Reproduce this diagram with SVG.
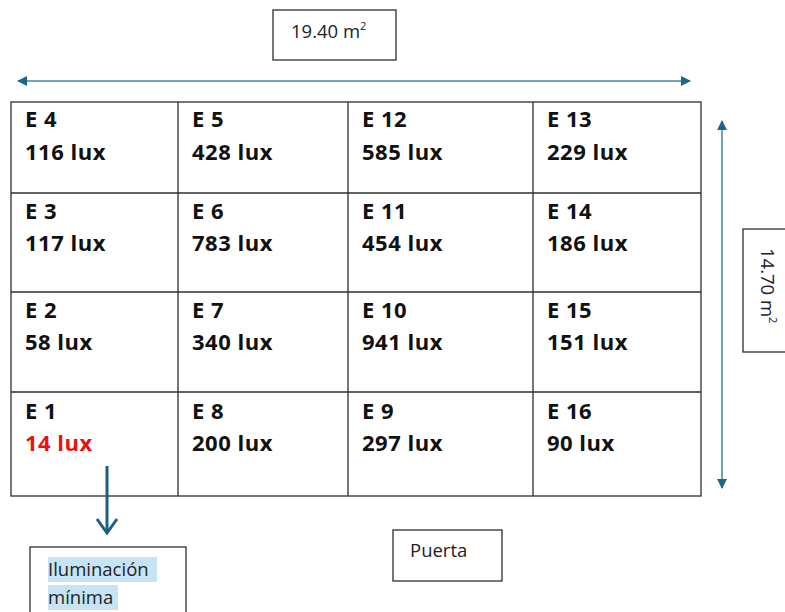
<svg xmlns="http://www.w3.org/2000/svg" width="785" height="612" viewBox="0 0 785 612">
  <defs>
    <marker id="tri" viewBox="0 0 10 10" refX="9" refY="5" markerWidth="10" markerHeight="10" markerUnits="userSpaceOnUse" orient="auto-start-reverse">
      <path d="M0,0 L10,5 L0,10 Z" fill="#1c6688"/>
    </marker>
  </defs>
  <style>
    .grid { fill: none; stroke: #2f2f2f; stroke-width: 1.3; }
    .box { fill: #ffffff; stroke: #2f2f2f; stroke-width: 1.3; }
    .lbl { font-family: "Open Sans", "Liberation Sans", sans-serif; font-weight: 700; font-size: 22px; letter-spacing: 0.5px; fill: #111111; }
    .low { fill: #ee1111; }
    .note { font-family: "Open Sans", "Liberation Sans", sans-serif; font-size: 18.5px; fill: #222222; }
    .dim { stroke: #3e84a6; stroke-width: 1.5; fill: none; }
    .hl { fill: #c6e4f5; }
  </style>

  <!-- floor grid -->
  <g id="grid">
    <rect class="grid" x="11" y="102" width="690" height="394"/>
    <line class="grid" x1="178" y1="102" x2="178" y2="496"/>
    <line class="grid" x1="348" y1="102" x2="348" y2="496"/>
    <line class="grid" x1="533" y1="102" x2="533" y2="496"/>
    <line class="grid" x1="11" y1="193" x2="701" y2="193"/>
    <line class="grid" x1="11" y1="292" x2="701" y2="292"/>
    <line class="grid" x1="11" y1="392" x2="701" y2="392"/>
  </g>

  <!-- row 1 -->
  <g id="E4"><text class="lbl" x="25" y="127">E 4</text><text class="lbl" x="25" y="160">116 lux</text></g>
  <g id="E5"><text class="lbl" x="192" y="127">E 5</text><text class="lbl" x="192" y="160">428 lux</text></g>
  <g id="E12"><text class="lbl" x="362" y="127">E 12</text><text class="lbl" x="362" y="160">585 lux</text></g>
  <g id="E13"><text class="lbl" x="547" y="127">E 13</text><text class="lbl" x="547" y="160">229 lux</text></g>
  <!-- row 2 -->
  <g id="E3"><text class="lbl" x="25" y="219">E 3</text><text class="lbl" x="25" y="251">117 lux</text></g>
  <g id="E6"><text class="lbl" x="192" y="219">E 6</text><text class="lbl" x="192" y="251">783 lux</text></g>
  <g id="E11"><text class="lbl" x="362" y="219">E 11</text><text class="lbl" x="362" y="251">454 lux</text></g>
  <g id="E14"><text class="lbl" x="547" y="219">E 14</text><text class="lbl" x="547" y="251">186 lux</text></g>
  <!-- row 3 -->
  <g id="E2"><text class="lbl" x="25" y="318">E 2</text><text class="lbl" x="25" y="350">58 lux</text></g>
  <g id="E7"><text class="lbl" x="192" y="318">E 7</text><text class="lbl" x="192" y="350">340 lux</text></g>
  <g id="E10"><text class="lbl" x="362" y="318">E 10</text><text class="lbl" x="362" y="350">941 lux</text></g>
  <g id="E15"><text class="lbl" x="547" y="318">E 15</text><text class="lbl" x="547" y="350">151 lux</text></g>
  <!-- row 4 -->
  <g id="E1"><text class="lbl" x="25" y="419">E 1</text><text class="lbl low" x="25" y="451">14 lux</text></g>
  <g id="E8"><text class="lbl" x="192" y="419">E 8</text><text class="lbl" x="192" y="451">200 lux</text></g>
  <g id="E9"><text class="lbl" x="362" y="419">E 9</text><text class="lbl" x="362" y="451">297 lux</text></g>
  <g id="E16"><text class="lbl" x="547" y="419">E 16</text><text class="lbl" x="547" y="451">90 lux</text></g>

  <!-- dimension labels -->
  <g id="width-label">
    <rect class="box" x="273" y="10" width="123" height="50"/>
    <text class="note" x="291" y="38">19.40 m<tspan font-size="11" dy="-8">2</tspan></text>
  </g>
  <g id="depth-label">
    <rect class="box" x="743" y="229" width="50" height="123"/>
    <text class="note" transform="translate(761,248) rotate(90)">14.70 m<tspan font-size="11" dy="-8">2</tspan></text>
  </g>

  <!-- notes -->
  <g id="puerta">
    <rect class="box" x="393" y="530" width="109" height="51"/>
    <text class="note" x="410" y="557">Puerta</text>
  </g>
  <g id="iluminacion-minima">
    <rect class="box" x="30" y="547" width="156" height="70"/>
    <rect class="hl" x="48" y="557" width="109" height="25"/>
    <rect class="hl" x="48" y="585" width="70" height="25"/>
    <text class="note" x="48" y="576">Iluminación</text>
    <text class="note" x="48" y="604">mínima</text>
  </g>

  <!-- connectors -->
  <g id="connectors">
    <line class="dim" x1="18" y1="81" x2="690" y2="81" marker-start="url(#tri)" marker-end="url(#tri)"/>
    <line class="dim" x1="722" y1="121" x2="722" y2="488" marker-start="url(#tri)" marker-end="url(#tri)"/>
    <line x1="107" y1="466" x2="107" y2="532" stroke="#1c5f80" stroke-width="3"/>
    <path d="M97,519 L107,533 L117,519" fill="none" stroke="#1c5f80" stroke-width="3"/>
  </g>
</svg>
